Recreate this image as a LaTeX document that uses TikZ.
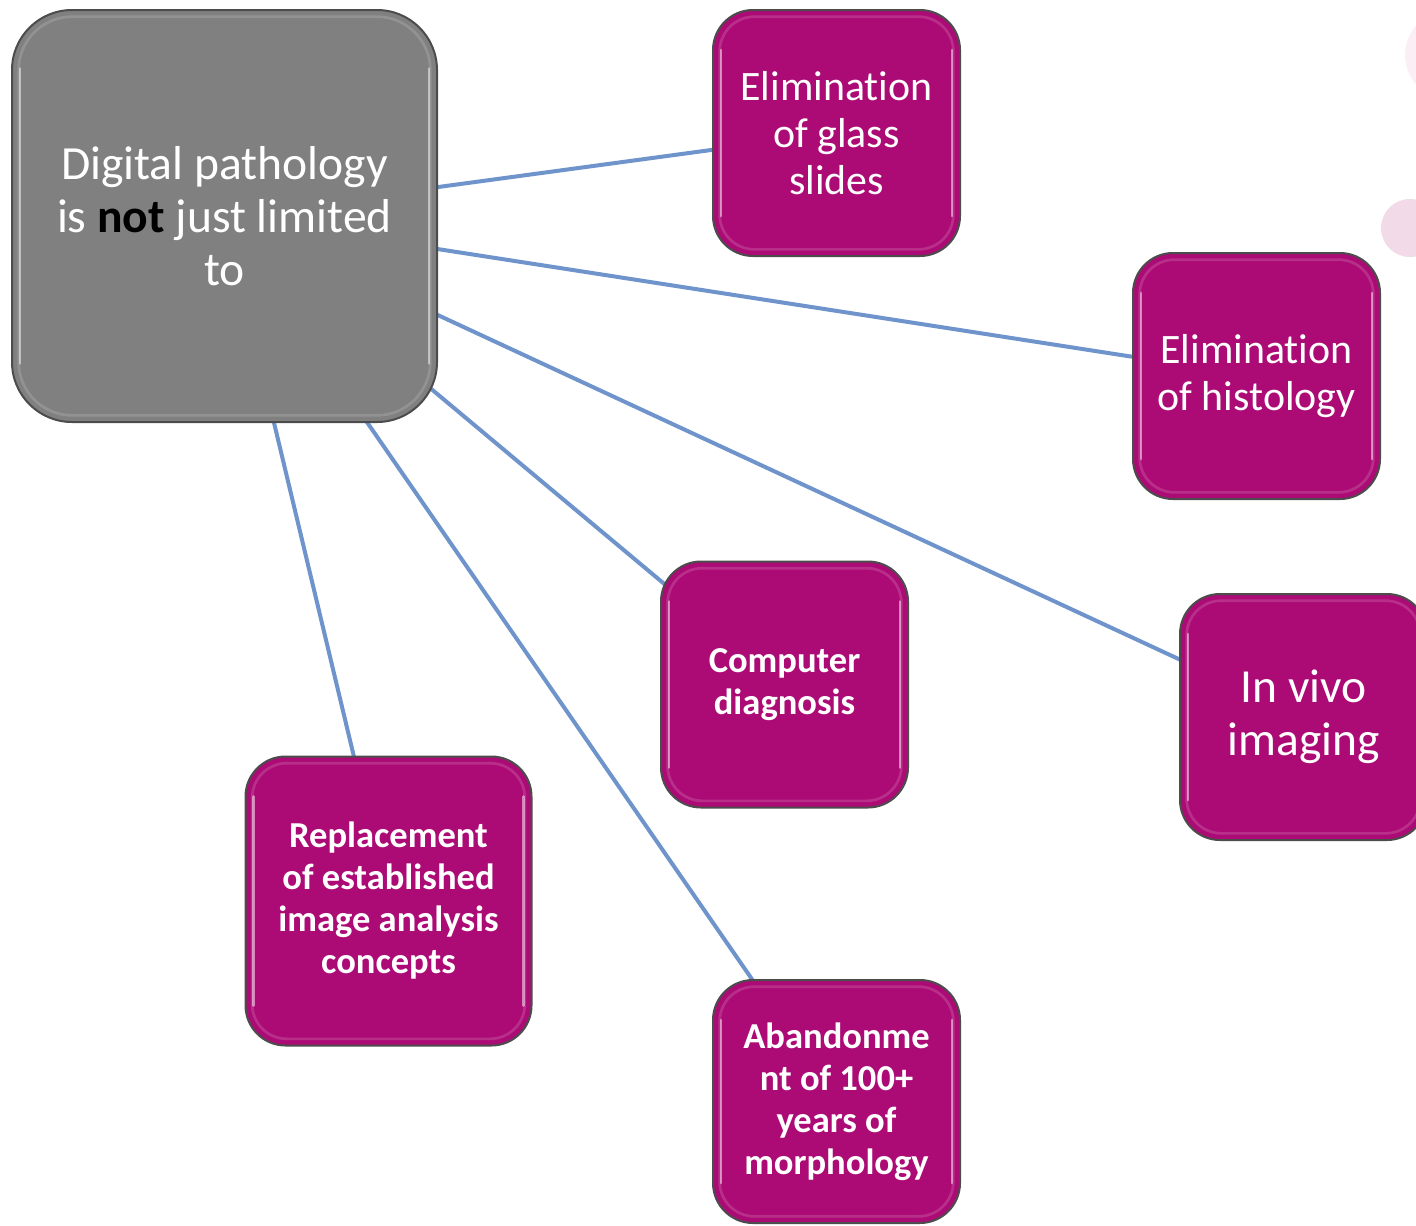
\documentclass[tikz,border=0pt]{standalone}
\usepackage{fontspec}
\setmainfont{Carlito}[Ligatures=NoCommon]
\usetikzlibrary{backgrounds}
\definecolor{mag}{HTML}{AC0B76}
\definecolor{cgray}{HTML}{808080}
\definecolor{conn}{HTML}{6F94CC}
\definecolor{pinkA}{HTML}{FBEFF5}
\definecolor{pinkB}{HTML}{F3DAE8}
\tikzset{
  gloss/.style={path picture={
    \draw[white, opacity=.15, line width=2pt, rounded corners=#1]
      ([shift={(5pt,-5pt)}]path picture bounding box.north west) rectangle
      ([shift={(-5pt,5pt)}]path picture bounding box.south east);
    \draw[white, opacity=.5, line width=2.2pt, line cap=round]
      ([shift={(6pt,-#1-4pt)}]path picture bounding box.north west) --
      ([shift={(6pt,#1+4pt)}]path picture bounding box.south west);
    \draw[white, opacity=.5, line width=2.2pt, line cap=round]
      ([shift={(-6pt,-#1-4pt)}]path picture bounding box.north east) --
      ([shift={(-6pt,#1+4pt)}]path picture bounding box.south east);
  }},
  hub/.style={rounded corners=45pt, draw=black!70, line width=1.5pt, fill=cgray,
    text=white, align=center, inner sep=0pt, gloss=40pt,
    minimum width=318.75pt, minimum height=309pt,
    font=\fontsize{35.7}{39.75}\selectfont},
  box/.style={rounded corners=30pt, draw=black!70, line width=1.5pt, fill=mag,
    text=white, align=center, inner sep=0pt, gloss=26pt,
    minimum width=185.25pt, minimum height=184.5pt},
  regtxt/.style={font=\fontsize{31.4}{35.25}\selectfont},
  bigtxt/.style={font=\fontsize{35.6}{39.75}\selectfont},
  boldtxt/.style={font=\fontsize{27.4}{31.5}\selectfont\bfseries},
  link/.style={draw=conn, line width=3pt},
}
\begin{document}
\begin{tikzpicture}[x=0.75pt, y=-0.75pt]
\useasboundingbox (0,0) rectangle (1416,1225);
% decorative circles
\fill[pinkA] (1450,55) circle[radius=33.75pt];
\fill[pinkB] (1410,228) circle[radius=21.75pt];
% nodes
\node[hub] (c) at (224.5,216)
  {Digital pathology\\is \textcolor{black}{\textbf{not}} just limited\\to};
\node[box, regtxt] (b1) at (836.5,133) {Elimination\\of glass\\slides};
\node[box, regtxt] (b2) at (1256.5,376) {Elimination\\of histology};
\node[box, boldtxt] (b3) at (784.5,684.5) {Computer\\diagnosis};
\node[box, bigtxt] (b4) at (1303.5,717) {In vivo\\imaging};
\node[box, boldtxt, minimum width=214.5pt, minimum height=216.75pt] (b5) at (388.5,901)
  {Replacement\\of established\\image analysis\\concepts};
\node[box, boldtxt, minimum height=182.25pt] (b6) at (836.5,1101.5)
  {Abandonme\\nt of 100+\\years of\\morphology};
% connectors
\begin{scope}[on background layer]
\draw[link] (c.center) -- (b1.center);
\draw[link] (c.center) -- (b2.center);
\draw[link] (c.center) -- (b3.center);
\draw[link] (c.center) -- (b4.center);
\draw[link] (c.center) -- (b5.center);
\draw[link] (c.center) -- (b6.center);
\end{scope}
\end{tikzpicture}
\end{document}
